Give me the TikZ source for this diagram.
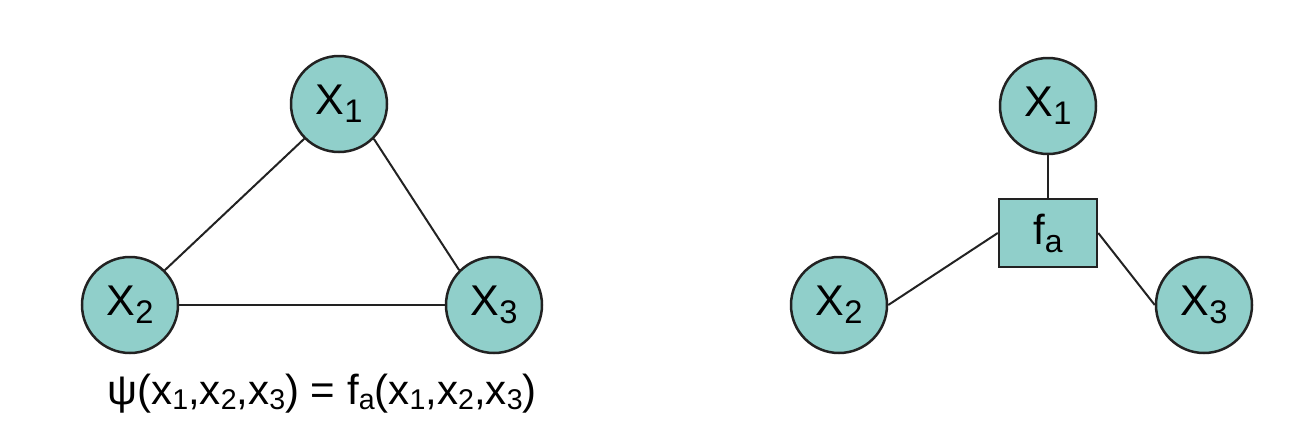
\documentclass[tikz,border=0pt]{standalone}
\usepackage{graphicx}
\usepackage{fontspec}
\setmainfont{Liberation Sans}
\definecolor{nodefill}{HTML}{90CFCA}
\definecolor{inkline}{HTML}{222222}
\newcommand{\lowsub}[1]{\raisebox{-0.19em}{\scalebox{0.76}{#1}}}
\newcommand{\fsub}[1]{\raisebox{-0.12em}{\scalebox{0.68}{#1}}}
\tikzset{
  varnode/.style={circle, draw=inkline, fill=nodefill, line width=2.5pt,
    minimum size=96pt, inner sep=0pt, font=\fontsize{43}{43}\selectfont},
  factornode/.style={rectangle, draw=inkline, fill=nodefill, line width=2.5pt,
    minimum width=98pt, minimum height=68pt, inner sep=0pt, font=\fontsize{42}{42}\selectfont},
  edge/.style={draw=inkline, line width=2pt},
  formula/.style={font=\fontsize{42}{42}\selectfont, inner sep=0pt, anchor=base}
}
\begin{document}
\begin{tikzpicture}[x=1pt,y=-1pt]
\useasboundingbox (0,0) rectangle (1294,424);
% left graph
\node[varnode] (a1) at (339,104) {X\lowsub{1}};
\node[varnode] (a2) at (130,305) {X\lowsub{2}};
\node[varnode] (a3) at (494,305) {X\lowsub{3}};
\draw[edge] (a1.south west) -- (a2.north east);
\draw[edge] (a1.south east) -- (a3.north west);
\draw[edge] (a2.east) -- (a3.west);
\node[formula] (psi) at (322,404) {ψ(x\fsub{1},x\fsub{2},x\fsub{3}) = f\fsub{a}(x\fsub{1},x\fsub{2},x\fsub{3})};
% right graph
\node[varnode] (b1) at (1048,106) {X\lowsub{1}};
\node[varnode] (b2) at (839,305) {X\lowsub{2}};
\node[varnode] (b3) at (1204,305) {X\lowsub{3}};
\node[factornode] (fa) at (1048,233) {f\lowsub{a}};
\draw[edge] (b1) -- (fa);
\draw[edge] (fa.west) -- (b2.east);
\draw[edge] (fa.east) -- (b3.west);
\end{tikzpicture}
\end{document}
